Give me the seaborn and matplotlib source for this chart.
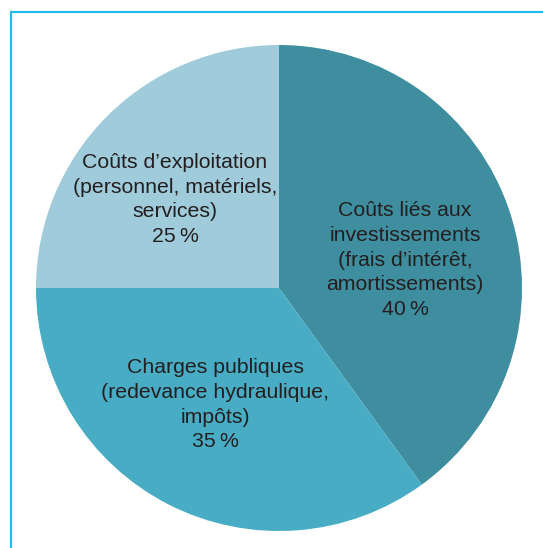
import matplotlib
matplotlib.use("Agg")
import matplotlib.pyplot as plt
import seaborn as sns
from matplotlib.patches import Rectangle

sns.set_theme(style="white")
plt.rcParams['font.family'] = ['Liberation Sans', 'DejaVu Sans']

labels = [
    "Coûts liés aux\ninvestissements\n(frais d’intérêt,\namortissements)",
    "Charges publiques\n(redevance hydraulique,\nimpôts)",
    "Coûts d’exploitation\n(personnel, matériels,\nservices)",
]
values = [40, 35, 25]
colors = ["#3F8E9F", "#48ACC5", "#9FCBDA"]
label_xy = [(0.519, 0.115), (-0.263, -0.481), (-0.428, 0.364)]

W, H = 543, 548
fig = plt.figure(figsize=(W / 100, H / 100), dpi=100)
cx, cy, r = 279, 288, 243
ax = fig.add_axes([(cx - r) / W, 1 - (cy + r) / H, 2 * r / W, 2 * r / H])
ax.pie(values, colors=colors, startangle=90, counterclock=False,
       wedgeprops=dict(linewidth=0))
ax.set_xlim(-1, 1)
ax.set_ylim(-1, 1)
ax.set_aspect("equal")
ax.axis("off")

for lab, v, (x, y) in zip(labels, values, label_xy):
    ax.text(x, y, f"{lab}\n{v}\u2009%", ha="center", va="center",
            fontsize=15.3, color="#231F20", linespacing=1.38)

fig.patches.append(Rectangle((11 / W, -0.1), 1.5, 1.1 - 12 / H + 0.0,
                             transform=fig.transFigure, fill=False,
                             edgecolor="#22BBF0", linewidth=1.6))

fig.savefig("out.png", dpi=100)
